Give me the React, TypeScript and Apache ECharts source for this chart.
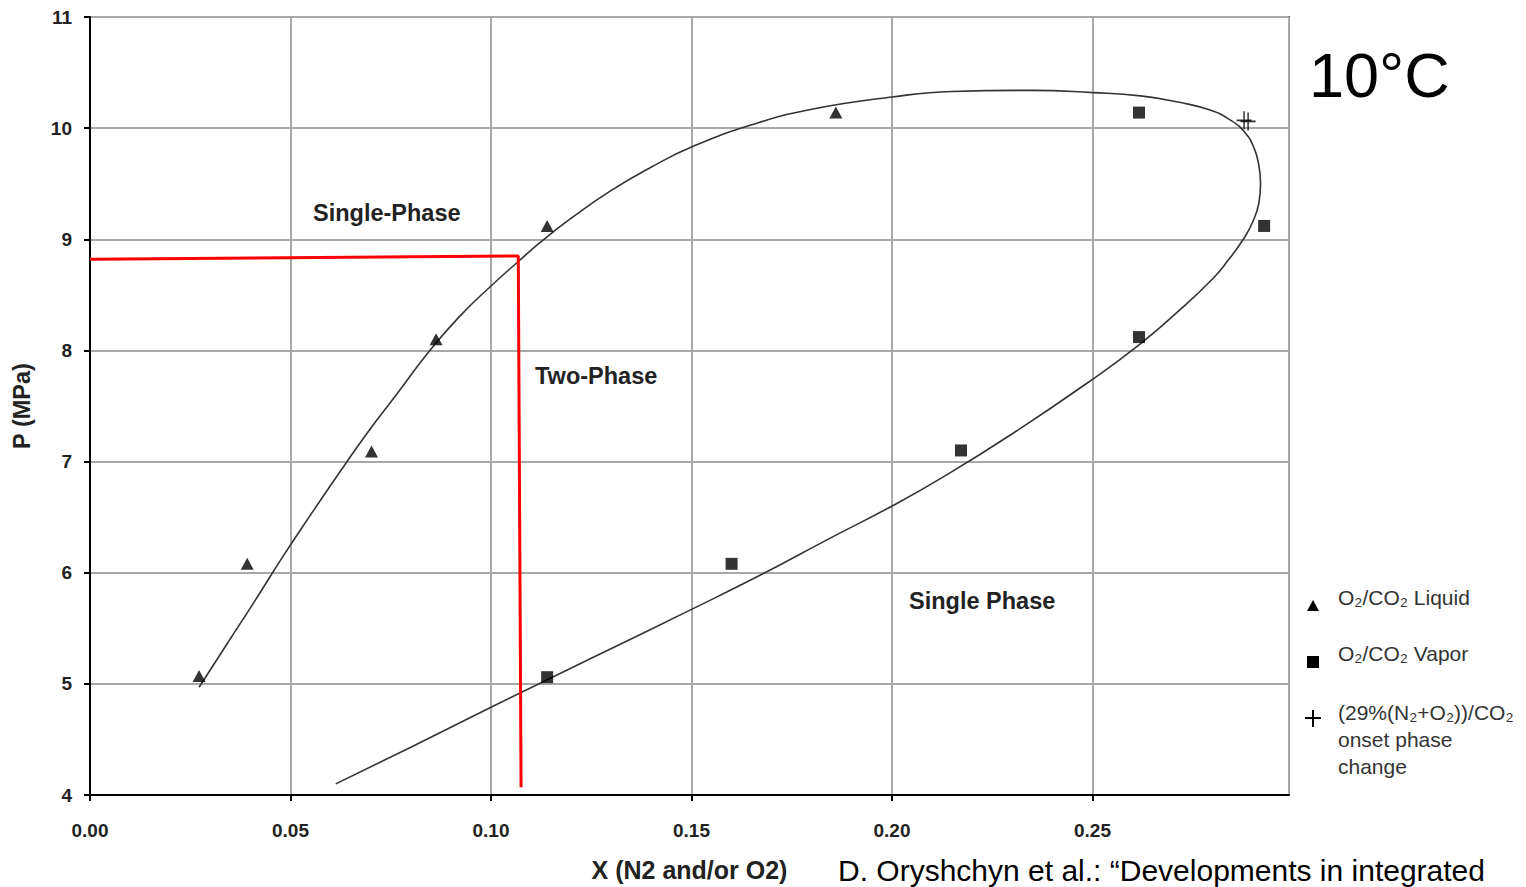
import React, { useEffect, useRef } from "react";
import * as echarts from "echarts";

// Phase envelope curve
const curveX = [
  0.0272, 0.034, 0.041, 0.048, 0.055, 0.062, 0.069, 0.077, 0.0843, 0.092, 0.1, 0.1068,
  0.1122, 0.12, 0.13, 0.14, 0.15, 0.165, 0.18, 0.2, 0.215, 0.235, 0.25, 0.262, 0.272,
  0.2795, 0.2845, 0.288, 0.2903, 0.2915, 0.2919, 0.2915, 0.29, 0.2876, 0.284, 0.2801,
  0.271, 0.2616, 0.25, 0.23, 0.2127, 0.2, 0.184, 0.1678, 0.15, 0.125, 0.1, 0.08, 0.0613,
];
const curveY = [
  4.97, 5.35, 5.74, 6.14, 6.52, 6.89, 7.25, 7.63, 7.98, 8.3, 8.58, 8.8,
  8.97, 9.19, 9.44, 9.65, 9.83, 10.03, 10.17, 10.28, 10.33, 10.34, 10.32, 10.29, 10.23,
  10.16, 10.07, 9.96, 9.82, 9.66, 9.5, 9.33, 9.16, 9.0, 8.82, 8.65,
  8.34, 8.05, 7.74, 7.25, 6.86, 6.6, 6.3, 5.99, 5.67, 5.23, 4.79, 4.43, 4.1,
];

// Red guide line
const redX = [0, 0.1068, 0.1075];
const redY = [8.82, 8.85, 4.07];

// O2/CO2 Liquid (triangles)
const liquidX = [0.0272, 0.0392, 0.0702, 0.0863, 0.114, 0.186];
const liquidY = [5.07, 6.08, 7.09, 8.1, 9.12, 10.14];

// O2/CO2 Vapor (squares)
const vaporX = [0.114, 0.16, 0.2172, 0.2616, 0.2928, 0.2616];
const vaporY = [5.06, 6.08, 7.1, 8.12, 9.12, 10.14];

// Onset phase change (+)
const plusX = [0.2878, 0.2888];
const plusY = [10.07, 10.06];

const xTicks = ["0.00", "0.05", "0.10", "0.15", "0.20", "0.25"];

const FONT = "'Liberation Sans', Arial, Helvetica, sans-serif";
const zip = (a: number[], b: number[]) => a.map((v, i) => [v, b[i]]);
const PLUS = "path://M9,0H11V20H9ZM0,9H20V11H0Z";

export default function App() {
  const ref = useRef<HTMLDivElement>(null);
  useEffect(() => {
    if (!ref.current) return;
    const chart = echarts.init(ref.current, null, { renderer: "svg" });
    const textColor = "#222";
    chart.setOption({
      animation: false,
      backgroundColor: "#fff",
      grid: {
        left: 90,
        top: 17,
        width: 1199,
        height: 781,
        show: true,
        borderColor: "#444",
        borderWidth: 2,
        backgroundColor: "transparent",
      },
      xAxis: {
        type: "value",
        min: 0,
        max: 0.299,
        interval: 0.05,
        name: "X (N2 and/or O2)",
        nameLocation: "middle",
        nameGap: 62,
        nameTextStyle: {
          fontFamily: "'Liberation Sans Narrow', 'Liberation Sans', Arial, sans-serif",
          fontWeight: "bold",
          fontSize: 25,
          color: textColor,
        },
        axisLine: { show: true, lineStyle: { color: "#000", width: 2 } },
        axisTick: { show: true, length: 6, lineStyle: { color: "#000", width: 2 } },
        axisLabel: {
          showMaxLabel: false,
          margin: 26,
          fontFamily: FONT,
          fontWeight: "bold",
          fontSize: 19,
          color: textColor,
          formatter: (v: number) => {
            const i = Math.round(v / 0.05);
            return Math.abs(v - i * 0.05) < 1e-6 ? xTicks[i] ?? "" : "";
          },
        },
        splitLine: { show: true, lineStyle: { color: "#a8a8a8", width: 2 } },
      },
      yAxis: {
        type: "value",
        min: 4,
        max: 11,
        interval: 1,
        name: "P (MPa)",
        nameLocation: "middle",
        nameGap: 56,
        nameTextStyle: {
          fontFamily: FONT,
          fontWeight: "bold",
          fontSize: 23.5,
          color: textColor,
        },
        axisLine: { show: true, lineStyle: { color: "#000", width: 2 } },
        axisTick: { show: true, length: 6, lineStyle: { color: "#000", width: 2 } },
        axisLabel: {
          margin: 18,
          fontFamily: FONT,
          fontWeight: "bold",
          fontSize: 19,
          color: textColor,
        },
        splitLine: { show: true, lineStyle: { color: "#a8a8a8", width: 2 } },
      },
      series: [
        {
          name: "envelope",
          type: "line",
          data: zip(curveX, curveY),
          smooth: 0.5,
          showSymbol: false,
          lineStyle: { color: "#333", width: 1.6 },
          z: 3,
        },
        {
          name: "guide",
          type: "line",
          data: zip(redX, redY),
          showSymbol: false,
          lineStyle: { color: "#ff0000", width: 3 },
          z: 4,
        },
        {
          name: "O₂/CO₂ Liquid",
          type: "scatter",
          symbol: "triangle",
          symbolSize: [13, 12],
          data: zip(liquidX, liquidY),
          itemStyle: { color: "#000" },
          z: 5,
        },
        {
          name: "O₂/CO₂ Vapor",
          type: "scatter",
          symbol: "rect",
          symbolSize: 12,
          data: zip(vaporX, vaporY),
          itemStyle: { color: "#000" },
          z: 5,
        },
        {
          name: "(29%(N₂+O₂))/CO₂ onset phase change",
          type: "scatter",
          symbol: PLUS,
          symbolSize: [15, 18],
          data: zip(plusX, plusY),
          itemStyle: { color: "#000" },
          z: 5,
        },
      ],
      graphic: [
        {
          type: "text",
          left: 313,
          top: 201,
          style: { text: "Single-Phase", font: `bold 23.5px ${FONT}`, fill: textColor },
        },
        {
          type: "text",
          left: 535,
          top: 364,
          style: { text: "Two-Phase", font: `bold 23.5px ${FONT}`, fill: textColor },
        },
        {
          type: "text",
          left: 909,
          top: 589,
          style: { text: "Single Phase", font: `bold 23.5px ${FONT}`, fill: textColor },
        },
        {
          type: "text",
          left: 1309,
          top: 43,
          style: { text: "10°C", font: `63px ${FONT}`, fill: "#000" },
        },
        {
          type: "text",
          left: 838,
          top: 855,
          style: {
            text: "D. Oryshchyn et al.: “Developments in integrated",
            font: `30px ${FONT}`,
            lineHeight: 30,
            fill: "#000",
          },
        },
        // legend
        {
          type: "polygon",
          shape: { points: [[1313, 600], [1307, 611], [1319, 611]] },
          style: { fill: "#000" },
        },
        {
          type: "text",
          left: 1338,
          top: 587,
          style: { text: "O₂/CO₂ Liquid", font: `21px ${FONT}`, fill: "#333" },
        },
        {
          type: "rect",
          shape: { x: 1307, y: 656, width: 12, height: 12 },
          style: { fill: "#000" },
        },
        {
          type: "text",
          left: 1338,
          top: 643,
          style: { text: "O₂/CO₂ Vapor", font: `21px ${FONT}`, fill: "#333" },
        },
        {
          type: "rect",
          shape: { x: 1312, y: 710, width: 2, height: 17 },
          style: { fill: "#000" },
        },
        {
          type: "rect",
          shape: { x: 1305, y: 717, width: 16, height: 2 },
          style: { fill: "#000" },
        },
        {
          type: "text",
          left: 1338,
          top: 699,
          style: {
            text: "(29%(N₂+O₂))/CO₂\nonset phase\nchange",
            font: `21px ${FONT}`,
            lineHeight: 27,
            fill: "#333",
          },
        },
      ],
    });
    return () => chart.dispose();
  }, []);
  return (
    <div
      ref={ref}
      style={{ position: "fixed", left: 0, top: 0, width: 1526, height: 887, background: "#fff" }}
    />
  );
}
